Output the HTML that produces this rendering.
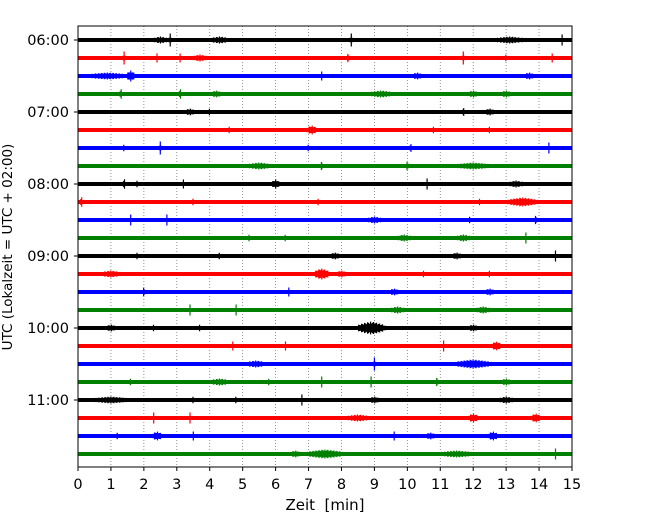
<!DOCTYPE html>
<html><head><meta charset="utf-8"><style>
html,body{margin:0;padding:0;background:#fff;}
svg{display:block;font-family:"DejaVu Sans","Liberation Sans",sans-serif;}
</style></head><body>
<svg id="chart" width="650" height="520" viewBox="0 0 650 520" xmlns="http://www.w3.org/2000/svg">
<defs><clipPath id="clip"><rect x="78" y="26" width="494" height="441"/></clipPath></defs>
<g id="grid"></g>
<g id="traces" clip-path="url(#clip)"></g>
<rect x="78" y="26" width="494" height="441" fill="none" stroke="#000" stroke-width="1"/>
<g id="xaxis"></g>
<g id="yaxis"></g>
<text x="325" y="510" font-size="15" text-anchor="middle">Zeit&#160; [min]</text>
<text transform="translate(12,247) rotate(-90)" font-size="13.5" text-anchor="middle">UTC (Lokalzeit = UTC + 02:00)</text>
</svg>
<script>
const xTicks=[0,1,2,3,4,5,6,7,8,9,10,11,12,13,14,15];
const hourLabels=["06:00","07:00","08:00","09:00","10:00","11:00"];
const colors=["#000000","#ff0000","#0000ff","#008000"];
// events per row: [minute, amplitude, halfwidth]
const events=[
[[2.5,3,0.3],[2.8,6,0.05],[4.3,3,0.4],[8.3,6,0.05],[13.1,3,0.6],[14.7,5,0.05]],
[[1.4,6,0.06],[2.4,4,0.05],[3.1,4,0.05],[3.7,3,0.3],[8.2,4,0.1],[11.7,6,0.06],[13.0,3,0.1],[14.4,4,0.06]],
[[0.9,3,0.8],[1.6,5,0.15],[7.4,4,0.05],[10.3,3,0.2],[13.7,3,0.2]],
[[1.3,5,0.08],[3.1,5,0.08],[4.2,3,0.2],[9.2,3,0.5],[12.0,3,0.2],[13.0,3,0.2]],
[[3.4,3,0.2],[4.0,3,0.1],[11.7,4,0.08],[12.5,3,0.2]],
[[4.6,3,0.1],[7.1,4,0.2],[10.8,3,0.1],[12.5,3,0.1]],
[[1.4,3,0.1],[2.5,6,0.06],[7.0,3,0.1],[10.1,4,0.08],[14.3,5,0.06]],
[[5.5,3,0.5],[7.4,4,0.1],[10.0,4,0.1],[12.0,3,0.7]],
[[1.4,5,0.08],[1.8,3,0.1],[3.2,4,0.06],[6.0,4,0.15],[10.6,5,0.06],[13.3,3,0.3]],
[[0.1,5,0.08],[3.5,3,0.1],[7.3,3,0.1],[12.2,3,0.1],[13.5,4,0.6]],
[[1.6,5,0.06],[2.7,5,0.06],[9.0,3,0.3],[11.9,3,0.1],[13.9,4,0.1]],
[[5.2,3,0.1],[6.3,3,0.1],[9.9,3,0.3],[11.7,3,0.3],[13.6,5,0.06]],
[[1.8,3,0.1],[4.3,3,0.1],[7.8,3,0.2],[11.5,3,0.2],[14.5,5,0.06]],
[[1.0,3,0.4],[7.4,5,0.3],[8.0,3,0.2],[10.5,3,0.1],[12.5,3,0.1]],
[[2.0,4,0.1],[6.4,4,0.06],[9.6,3,0.2],[12.5,3,0.2]],
[[3.4,5,0.06],[4.8,5,0.06],[9.7,3,0.3],[12.3,3,0.3]],
[[1.0,3,0.2],[2.3,3,0.1],[3.7,3,0.1],[8.9,6,0.5],[12.0,3,0.2]],
[[4.7,4,0.06],[6.3,4,0.06],[11.1,5,0.06],[12.7,4,0.2]],
[[5.4,3,0.4],[9.0,6,0.06],[12.0,4,0.7]],
[[1.6,3,0.1],[4.3,3,0.4],[5.8,3,0.1],[7.4,5,0.06],[8.9,5,0.06],[10.9,4,0.1],[13.0,3,0.2]],
[[1.0,3,0.7],[3.5,3,0.1],[4.8,3,0.1],[6.8,5,0.06],[9.0,3,0.2],[13.0,3,0.3]],
[[2.3,5,0.06],[3.4,5,0.06],[8.5,3,0.5],[12.0,4,0.2],[13.9,4,0.2]],
[[1.2,3,0.1],[2.4,4,0.2],[3.5,4,0.06],[9.6,4,0.06],[10.7,3,0.2],[12.6,4,0.2]],
[[6.6,3,0.2],[7.5,4,0.7],[11.5,3,0.7],[14.5,5,0.06]]
];
const NS="http://www.w3.org/2000/svg";
const X0=78,X1=572,Y0=40,DY=18;
function xs(m){return X0+(X1-X0)*m/15;}
function ys(r){return Y0+DY*r;}
function mk(tag,attrs,parent){const e=document.createElementNS(NS,tag);for(const k in attrs)e.setAttribute(k,attrs[k]);parent.appendChild(e);return e;}
const grid=document.getElementById('grid'),tr=document.getElementById('traces'),xa=document.getElementById('xaxis'),ya=document.getElementById('yaxis');
xTicks.forEach(t=>{
  if(t>0&&t<15){const l=mk('line',{x1:xs(t),x2:xs(t),y1:26,y2:467,stroke:'#777','stroke-width':0.8,'stroke-dasharray':'1,2'},grid);
  
  }
  const tk=mk('line',{x1:xs(t),x2:xs(t),y1:467,y2:471,stroke:'#000'},xa);
  
  
  const tx=mk('text',{x:xs(t),y:489,'font-size':14.5,'text-anchor':'middle'},xa);
  tx.textContent=t;
  
  
});
hourLabels.forEach((h,i)=>{
  const y=ys(i*4);
  const tk=mk('line',{x1:74,x2:78,y1:y,y2:y,stroke:'#000'},ya);
  
  
  const tx=mk('text',{x:69,y:y+5,'font-size':14.5,'text-anchor':'end'},ya);
  tx.textContent=h;
  
  
});
events.forEach((ev,r)=>{
  const y=ys(r),c=colors[r%4];
  const g=mk('g',{fill:c,stroke:c},tr);
  
  
  const b=mk('rect',{x:X0,y:y-2,width:X1-X0,height:4,stroke:'none'},g);
  
  
  ev.forEach(e=>{
    const cx=xs(e[0]),hw=Math.max(2,(X1-X0)*e[2]/15),a=e[1]+0.5;
    let d='';
    for(let px=-hw;px<=hw;px+=1){
      const env=1-Math.abs(px)/hw;
      const k=Math.round(px)%3;
      const h=Math.max(2,a*(hw<4?env:Math.sqrt(env))*(k===0?1:(k===1||k===-1?0.7:0.85)));
      d+=`M${(cx+px).toFixed(1)},${(y-h).toFixed(1)}V${(y+h).toFixed(1)}`;
    }
    const p=mk('path',{d:d,'stroke-width':1.2,fill:'none'},g);
    
    
  });
});
</script>
</body></html>
